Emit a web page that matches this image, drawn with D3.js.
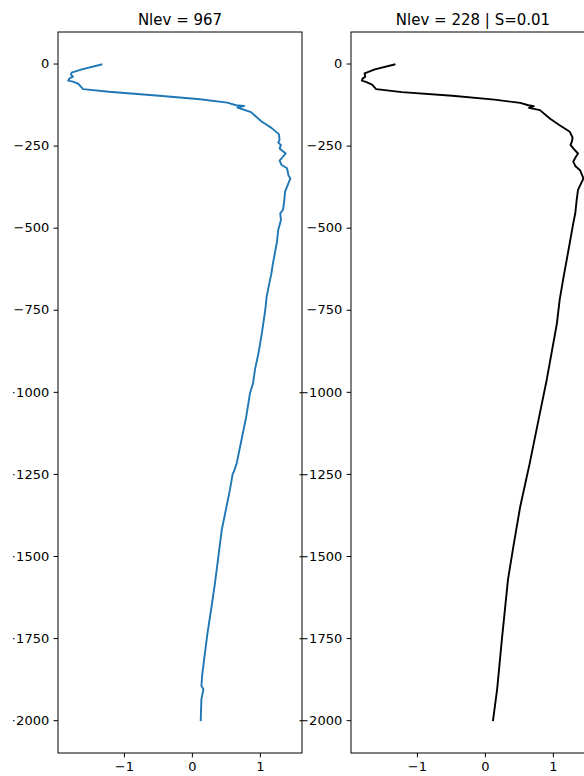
<!DOCTYPE html>
<html>
<head>
<meta charset="utf-8">
<script src="https://cdn.jsdelivr.net/npm/d3@7"></script>
<style>
  body { margin: 0; background: #fff; }
  text { font-family: "DejaVu Sans", sans-serif; fill: #000; }
</style>
</head>
<body>
<script>
// raw profile
var depthRaw = [-3, -18, -28, -34, -40, -45, -52, -55, -62, -78, -86, -98, -109, -119, -127, -129, -134, -148,
  -176, -196, -215, -233, -241, -248, -259, -274, -284, -296, -309, -319, -340, -350, -375, -391, -416, -446,
  -456, -477, -507, -545, -578, -612, -639, -669, -710, -750, -821, -882, -930, -973, -1004, -1075, -1146,
  -1217, -1242, -1250, -1298, -1359, -1420, -1501, -1582, -1653, -1734, -1815, -1866, -1896, -1906, -1936, -2000];
var tempRaw = [-1.33, -1.62, -1.77, -1.78, -1.75, -1.80, -1.82, -1.75, -1.67, -1.60, -1.22, -0.48, 0.12, 0.52, 0.65, 0.77, 0.67, 0.87,
  1.02, 1.17, 1.28, 1.29, 1.27, 1.31, 1.29, 1.38, 1.34, 1.29, 1.32, 1.40, 1.42, 1.45, 1.40, 1.37, 1.36, 1.34,
  1.30, 1.31, 1.27, 1.25, 1.22, 1.19, 1.17, 1.14, 1.10, 1.08, 1.03, 0.98, 0.93, 0.90, 0.855, 0.80, 0.73,
  0.66, 0.62, 0.60, 0.56, 0.50, 0.44, 0.39, 0.34, 0.29, 0.23, 0.18, 0.15, 0.14, 0.17, 0.14, 0.13];

// smoothed profile
var depthSmooth = [-3, -18, -30, -40, -46, -52, -56, -64, -78, -87, -98, -110, -120, -127, -130, -135, -142, -168,
  -188, -208, -226, -238, -248, -261, -274, -287, -299, -312, -325, -350, -385, -416, -456, -487, -568, -659,
  -720, -791, -963, -1064, -1217, -1349, -1470, -1571, -1754, -1906, -2000];
var tempSmooth = [-1.33, -1.62, -1.77, -1.76, -1.80, -1.81, -1.75, -1.66, -1.60, -1.22, -0.48, 0.14, 0.52, 0.64, 0.72, 0.65, 0.81, 0.96,
  1.10, 1.25, 1.29, 1.28, 1.26, 1.31, 1.37, 1.33, 1.30, 1.33, 1.40, 1.45, 1.37, 1.35, 1.33, 1.30, 1.23, 1.15,
  1.10, 1.06, 0.91, 0.81, 0.66, 0.52, 0.42, 0.34, 0.25, 0.18, 0.12];

var titles = ["Nlev = 967", "Nlev = 228 | S=0.01"];
var yTicks = [0, -250, -500, -750, -1000, -1250, -1500, -1750, -2000];
var xTicks = [-1, 0, 1];

var w = 584;
var h = 776;

var margin = { top: 32, left: 58 };
var pw = 244;
var ph = 721;
var gap = 49;

var panels = [
  { title: titles[0], depth: depthRaw, temp: tempRaw, color: "#1f77b4" },
  { title: titles[1], depth: depthSmooth, temp: tempSmooth, color: "#000" }
];

var x = d3.scaleLinear().domain([-1.97, 1.62]).range([0, pw]);
var y = d3.scaleLinear().domain([96, -2100]).range([0, ph]);
var fmt = d3.format("d");

var svg = d3.select("body")
  .append("svg")
  .attr("width", w)
  .attr("height", h);

// the figure's left edge cuts the long tick labels
svg.append("clipPath")
  .attr("id", "fig")
  .append("rect")
  .attr("x", 13).attr("y", 0)
  .attr("width", w).attr("height", h);

var root = svg.append("g").attr("clip-path", "url(#fig)");

panels.forEach(function(p, i) {
  var left = margin.left + i * (pw + gap);
  var g = root.append("g")
    .attr("transform", "translate(" + left + "," + margin.top + ")");

  var line = d3.line()
    .x(function(d, k) { return x(p.temp[k]); })
    .y(function(d, k) { return y(p.depth[k]); });

  g.append("path")
    .datum(p.depth)
    .attr("d", line)
    .attr("fill", "none")
    .attr("stroke", p.color)
    .attr("stroke-width", 1.9)
    .attr("stroke-linejoin", "round")
    .attr("stroke-linecap", "square");

  g.append("rect")
    .attr("x", 0).attr("y", 0)
    .attr("width", pw).attr("height", ph)
    .attr("fill", "none")
    .attr("stroke", "#000")
    .attr("stroke-width", 1);

  var yAxis = g.append("g")
    .call(d3.axisLeft(y).tickValues(yTicks).tickFormat(fmt).tickSize(4.4).tickPadding(4.4).tickSizeOuter(0));
  var xAxis = g.append("g")
    .attr("transform", "translate(0," + ph + ")")
    .call(d3.axisBottom(x).tickValues(xTicks).tickFormat(fmt).tickSize(4.4).tickPadding(4.4).tickSizeOuter(0));

  [yAxis, xAxis].forEach(function(a) {
    a.select(".domain").remove();
    a.selectAll("line").attr("stroke", "#000");
    a.selectAll("text")
      .attr("fill", "#000")
      .style("font-size", "13px")
      .style("font-family", "DejaVu Sans");
  });

  g.append("text")
    .attr("x", pw / 2)
    .attr("y", -7.5)
    .attr("text-anchor", "middle")
    .style("font-size", "15px")
    .text(p.title);
});
</script>
</body>
</html>
